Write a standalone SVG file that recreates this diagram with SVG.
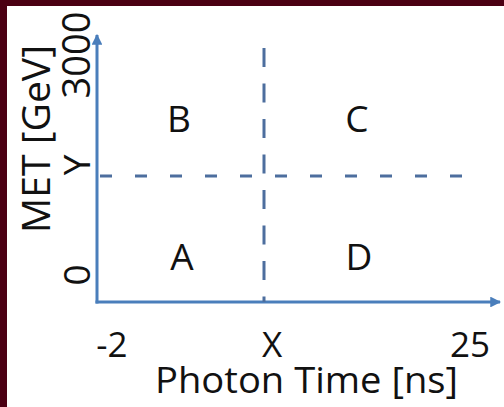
<svg xmlns="http://www.w3.org/2000/svg" width="504" height="407" viewBox="0 0 504 407">
  <style>
    .t { font-family: "Open Sans", "Liberation Sans", sans-serif; fill: #111; }
    .axis { stroke: #4A7EBB; stroke-width: 3; fill: none; }
    .dash { stroke: #4D6E9E; stroke-width: 3; fill: none; }
  </style>
  <defs>
    <marker id="arr" viewBox="0 0 10 10" refX="9" refY="5" markerWidth="3.6" markerHeight="3.6" orient="auto" markerUnits="strokeWidth">
      <path d="M0,0 L10,5 L0,10 z" fill="#4A7EBB"/>
    </marker>
  </defs>
  <rect x="0" y="0" width="504" height="407" fill="#4B0013"/>
  <rect x="7" y="6" width="497" height="401" fill="#ffffff"/>

  <g id="connectors">
    <path id="x-axis" class="axis" d="M95.5,302 L500,302" marker-end="url(#arr)"/>
    <path id="y-axis" class="axis" d="M97,303.5 L97,35" marker-end="url(#arr)"/>
    <path id="x-cut" class="dash" d="M264,48 L264,302" stroke-dasharray="19 16.5"/>
    <path id="y-cut" class="dash" d="M100,176 L472,176" stroke-dasharray="12 23"/>
  </g>

  <g id="region-A"><text class="t" x="182" y="270" font-size="37" text-anchor="middle">A</text></g>
  <g id="region-B"><text class="t" x="179" y="132" font-size="37" text-anchor="middle">B</text></g>
  <g id="region-C"><text class="t" x="357" y="132" font-size="37" text-anchor="middle">C</text></g>
  <g id="region-D"><text class="t" x="359" y="270" font-size="37" text-anchor="middle">D</text></g>

  <g id="x-labels">
    <text class="t" x="112" y="357" font-size="35" text-anchor="middle">-2</text>
    <text class="t" x="272" y="357" font-size="35" text-anchor="middle">X</text>
    <text class="t" x="470" y="357" font-size="35" text-anchor="middle">25</text>
    <text class="t" x="155" y="393" font-size="37" textLength="303" lengthAdjust="spacingAndGlyphs">Photon Time [ns]</text>
  </g>

  <g id="y-labels">
    <text class="t" transform="translate(50,139) rotate(-90)" font-size="39" text-anchor="middle" textLength="188" lengthAdjust="spacingAndGlyphs">MET [GeV]</text>
    <text class="t" transform="translate(90,55) rotate(-90)" font-size="38" text-anchor="middle">3000</text>
    <text class="t" transform="translate(90,165) rotate(-90)" font-size="37" text-anchor="middle">Y</text>
    <text class="t" transform="translate(90,275) rotate(-90)" font-size="37" text-anchor="middle">0</text>
  </g>
</svg>
